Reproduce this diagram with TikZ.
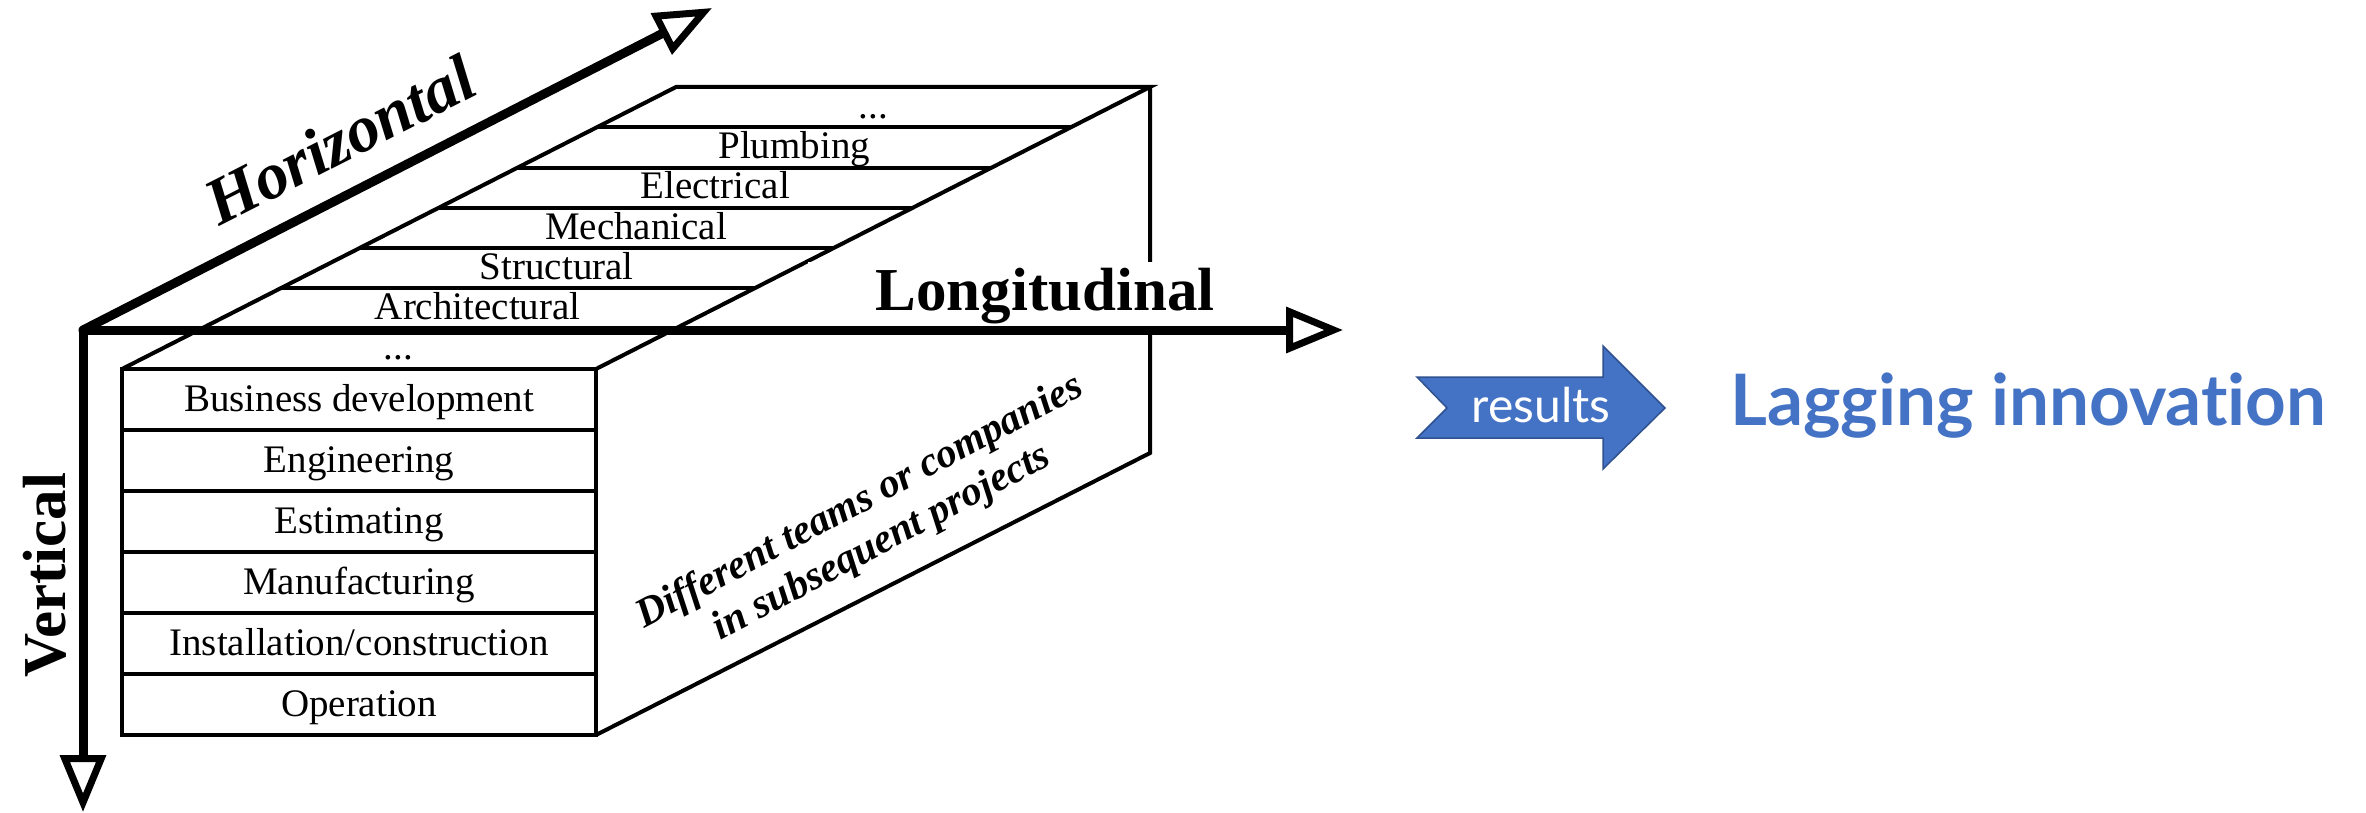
\documentclass[tikz,border=0pt]{standalone}
\usepackage{fontspec}
\setmainfont{Liberation Serif}
\newfontfamily\latofont[Ligatures=NoCommon]{Lato}
\usetikzlibrary{arrows.meta,calc}
\definecolor{accent}{HTML}{4472C4}
\definecolor{accentdark}{HTML}{2F528F}
\begin{document}
\begin{tikzpicture}[x=0.5pt,y=-0.5pt,
  boxline/.style={line width=2pt, line join=miter},
  axisline/.style={line width=4.5pt, line cap=round,
    -{Triangle[open,length=28.5pt,width=22.5pt,line width=3.5pt]}},
  rowlabel/.style={anchor=base, inner sep=0pt, font=\fontsize{19.5}{22}\selectfont},
  axislabel/.style={anchor=base, inner sep=0pt, font=\fontsize{30.5}{34}\selectfont\bfseries},
]
\useasboundingbox (0,0) rectangle (2366,813);

% box corners
\coordinate (A) at (122,369);
\coordinate (B) at (596,369);
\coordinate (C) at (596,735);
\coordinate (D) at (122,735);
\coordinate (E) at (676,87);
\coordinate (F) at (1150,87);
\coordinate (G) at (1150,453);

% box
\draw[boxline] (A) -- (E) -- (F) -- (B);
\draw[boxline] (F) -- (G) -- (C);
\draw[boxline] (A) rectangle (C);
\foreach \k in {1,...,6}
  \draw[boxline] ($(A)!\k/7!(E)$) -- ($(B)!\k/7!(F)$);
\foreach \k in {1,...,5}
  \draw[boxline] ($(A)!\k/6!(D)$) -- ($(B)!\k/6!(C)$);

% front face labels
\node[rowlabel] (f1) at (359,411) {Business development};
\node[rowlabel] (f2) at (359,472) {Engineering};
\node[rowlabel] (f3) at (359,533) {Estimating};
\node[rowlabel] (f4) at (359,594) {Manufacturing};
\node[rowlabel] (f5) at (359,655) {Installation/construction};
\node[rowlabel] (f6) at (359,716) {Operation};

% top face labels
\node[rowlabel] (t0) at ($(A)!0.5/7!(E)+(237,11)$) {...};
\node[rowlabel] (t1) at ($(A)!1.5/7!(E)+(237,11)$) {Architectural};
\node[rowlabel] (t2) at ($(A)!2.5/7!(E)+(237,11)$) {Structural};
\node[rowlabel] (t3) at ($(A)!3.5/7!(E)+(237,11)$) {Mechanical};
\node[rowlabel] (t4) at ($(A)!4.5/7!(E)+(237,11)$) {Electrical};
\node[rowlabel] (t5) at ($(A)!5.5/7!(E)+(237,11)$) {Plumbing};
\node[rowlabel] (t6) at ($(A)!6.5/7!(E)+(237,11)$) {...};

% side face label
\node[rotate=28, align=center, inner sep=0pt,
  font=\fontsize{20.5}{23}\selectfont\bfseries\itshape] (side) at (871,523)
  {Different teams or companies\\in subsequent projects};

% longitudinal label with white background
\fill[white] (808,262) rectangle (1282,326);
\node[axislabel] (llab) at (1045,310) {Longitudinal};
\node[axislabel, font=\fontsize{33}{36}\selectfont\bfseries\itshape, rotate=27] (hlab) at (350,160) {Horizontal};
\node[axislabel, rotate=90] (vlab) at (65,575) {Vertical};

% axes
\coordinate (O) at (83,330);
\coordinate (Htip) at (712,8);
\coordinate (Ltip) at (1343,330);
\coordinate (Vtip) at (83,812);
\draw[axisline] (O) -- (Htip);
\draw[axisline] (O) -- (Ltip);
\draw[axisline] (O) -- (Vtip);

% results arrow
\draw[fill=accent, draw=accentdark, line width=0.75pt]
  (1417,377) -- (1603,377) -- (1603,346) -- (1665,408) -- (1603,469)
  -- (1603,438) -- (1417,438) -- (1447,408) -- cycle;
\node[anchor=base, text=white, inner sep=0pt,
  font=\latofont\fontsize{24}{28}\selectfont] (res) at (1541,422) {results};
\node[anchor=base west, text=accent, inner sep=0pt,
  font=\latofont\bfseries\fontsize{35.5}{40}\selectfont] (lag) at (1730,425) {Lagging innovation};
\end{tikzpicture}
\end{document}
